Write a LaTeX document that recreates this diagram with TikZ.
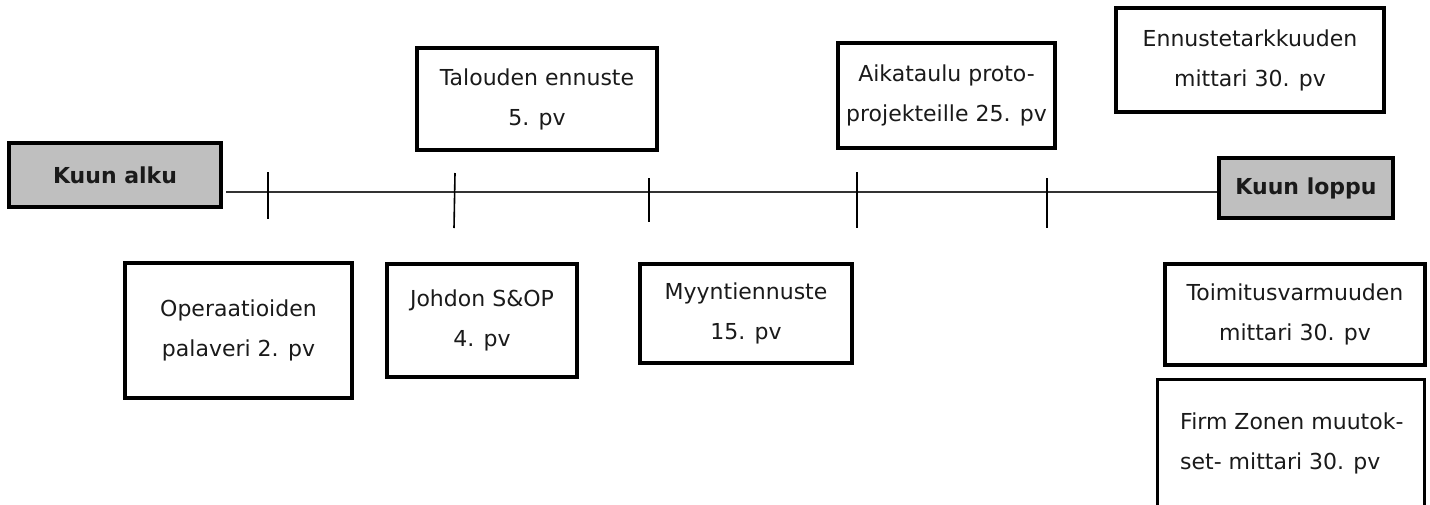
\documentclass[tikz,border=0pt]{standalone}
\usepackage{fontspec}
\setmainfont{DejaVu Sans}
\definecolor{boxgray}{HTML}{BFBFBF}
\definecolor{txt}{HTML}{1A1A1A}
\definecolor{axis}{HTML}{333333}
\begin{document}
\begin{tikzpicture}[x=1pt,y=-1pt,
  box/.style={draw=black,line width=3.4pt,fill=white,inner sep=0pt,align=center,text=txt,
    font=\fontsize{22}{40}\selectfont},
  endbox/.style={box,fill=boxgray,font=\fontsize{22}{26}\selectfont\bfseries},
  axisline/.style={draw=axis,line width=2pt},
  tick/.style={draw=black,line width=1.6pt}]
\useasboundingbox (0,0) rectangle (1430,504);
\clip (0,0) rectangle (1430,504);
\fill[white] (0,0) rectangle (1430,504);
% end boxes
\node[endbox,minimum width=212pt,minimum height=64pt] (alku) at (115,175) {Kuun alku};
\node[endbox,minimum width=174pt,minimum height=60pt] (loppu) at (1306,188) {Kuun loppu};
% timeline
\coordinate (tl0) at (226,192);
\draw[axisline] (tl0) -- (loppu.west |- tl0);
% ticks
\coordinate (t1a) at (268,172); \coordinate (t1b) at (268,219);
\coordinate (t2a) at (455,173); \coordinate (t2b) at (454,228);
\coordinate (t3a) at (649,178); \coordinate (t3b) at (649,222);
\coordinate (t4a) at (857,172); \coordinate (t4b) at (857,228);
\coordinate (t5a) at (1047,178); \coordinate (t5b) at (1047,228);
\draw[tick] (t1a) -- (t1b);
\draw[tick] (t2a) -- (t2b);
\draw[tick] (t3a) -- (t3b);
\draw[tick] (t4a) -- (t4b);
\draw[tick] (t5a) -- (t5b);
% upper boxes
\node[box,minimum width=240pt,minimum height=102pt] (talous) at (537,99) {Talouden ennuste\\5. pv};
\node[box,minimum width=217pt,minimum height=105pt] (aika) at (946.5,95.5) {Aikataulu proto-\\projekteille 25. pv};
\node[box,minimum width=268pt,minimum height=104pt] (tarkkuus) at (1250,60) {Ennustetarkkuuden\\mittari 30. pv};
% lower boxes
\node[box,minimum width=227pt,minimum height=135pt] (oper) at (238.5,330.5) {Operaatioiden\\palaveri 2. pv};
\node[box,minimum width=190pt,minimum height=113pt] (johdon) at (482,320.5) {Johdon S\&OP\\4. pv};
\node[box,minimum width=212pt,minimum height=99pt] (myynti) at (746,313.5) {Myyntiennuste\\15. pv};
\node[box,minimum width=260pt,minimum height=101pt] (toimi) at (1295,314.5) {Toimitusvarmuuden\\mittari 30. pv};
\node[box,minimum width=267pt,minimum height=150pt,anchor=north west] (firm) at (1156,378) {};
\node[inner sep=0pt,align=left,anchor=west,text=txt,font=\fontsize{22}{40}\selectfont] (firmtxt) at (1180,443) {Firm Zonen muutok-\\set- mittari 30. pv};
\end{tikzpicture}
\end{document}
